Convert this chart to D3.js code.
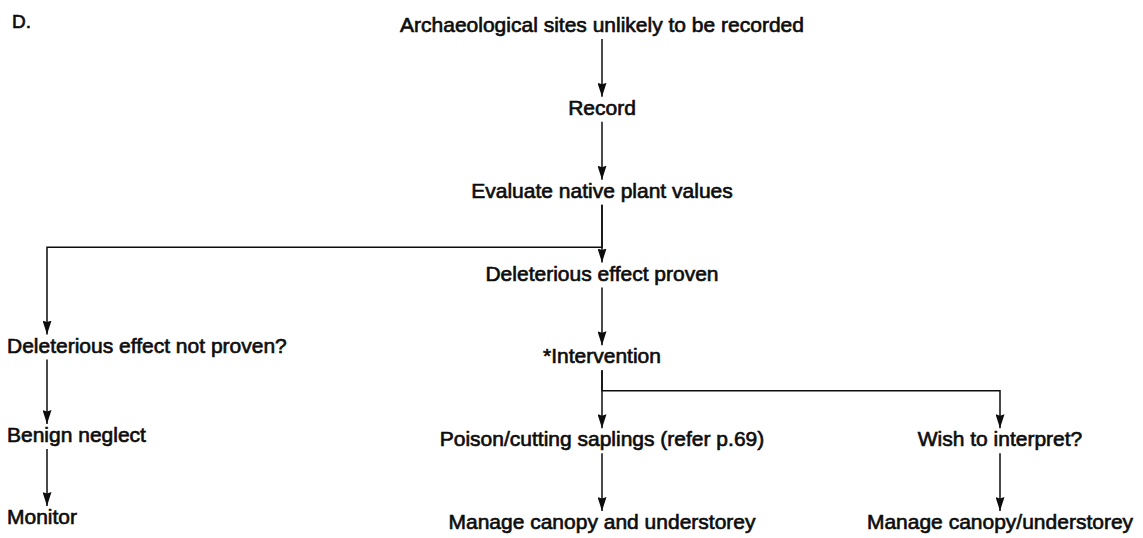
<!DOCTYPE html>
<html>
<head>
<meta charset="utf-8">
<script src="https://cdn.jsdelivr.net/npm/d3@7"></script>
<style>
  body { margin: 0; background: #fff; }
  svg text { font-family: "Liberation Sans", Arial, sans-serif; fill: #0d0d0d; stroke: #0d0d0d; stroke-width: 0.65px; }
</style>
</head>
<body>
<svg id="chart" width="1143" height="538"></svg>
<script>
// Flowchart content
var panel_label = "D.";

var node_labels = [
  "Archaeological sites unlikely to be recorded",
  "Record",
  "Evaluate native plant values",
  "Deleterious effect proven",
  "*Intervention",
  "Poison/cutting saplings (refer p.69)",
  "Manage canopy and understorey",
  "Deleterious effect not proven?",
  "Benign neglect",
  "Monitor",
  "Wish to interpret?",
  "Manage canopy/understorey"
];
// level of each node in the chart (left column sits a bit higher)
var node_rows = [0, 1, 2, 3, 4, 5, 6, 3.87, 4.95, 5.94, 5, 6];
var node_cols = ["mid", "mid", "mid", "mid", "mid", "mid", "mid", "left", "left", "left", "right", "right"];

// edges: source index, target index, level where an elbow turns (null = straight)
var edge_from = [0, 1, 2, 2, 3, 4, 4, 5, 7, 8, 10];
var edge_to   = [1, 2, 3, 7, 4, 5, 10, 6, 8, 9, 11];
var edge_bend = [null, null, null, 2.6, null, null, 4.33, null, null, null, null];

var svg = d3.select('#chart');

var y = d3.scaleLinear().domain([0, 6]).range([32, 529]);
var x = d3.scaleOrdinal().domain(["left", "mid", "right"]).range([47, 602, 1000]);

var fontSize = 21;

svg.append("text")
  .attr("x", 12).attr("y", 28)
  .style("font-size", "19px")
  .text(panel_label);

// arrow head
svg.append("defs").append("marker")
  .attr("id", "arrow")
  .attr("viewBox", "0 0 14 9")
  .attr("refX", 14).attr("refY", 4.5)
  .attr("markerWidth", 14).attr("markerHeight", 9)
  .attr("markerUnits", "userSpaceOnUse")
  .attr("orient", "auto")
  .append("path")
  .attr("d", "M0,0 L14,4.5 L0,9 L1.5,4.5 Z")
  .attr("fill", "#0d0d0d");

var edges = edge_from.map(function(s, i) {
  return {s: s, t: edge_to[i], bend: edge_bend[i]};
});

svg.append("g").selectAll("path")
  .data(edges)
  .enter().append("path")
  .attr("fill", "none")
  .attr("stroke", "#0d0d0d")
  .attr("stroke-width", 1.5)
  .attr("marker-end", "url(#arrow)")
  .attr("d", function(d) {
    var sx = x(node_cols[d.s]), tx = x(node_cols[d.t]);
    var sy = y(node_rows[d.s]) + 7;
    var ty = y(node_rows[d.t]) - 18;
    if (d.bend === null) {
      return "M" + tx + "," + sy + " L" + tx + "," + ty;
    }
    var by = y(d.bend);
    return "M" + sx + "," + sy + " L" + sx + "," + by + " L" + tx + "," + by + " L" + tx + "," + ty;
  });

svg.append("g").selectAll("text")
  .data(node_labels)
  .enter().append("text")
  .attr("x", function(d, i) { return node_cols[i] === "left" ? 7 : x(node_cols[i]); })
  .attr("y", function(d, i) { return y(node_rows[i]); })
  .attr("text-anchor", function(d, i) { return node_cols[i] === "left" ? "start" : "middle"; })
  .style("font-size", fontSize + "px")
  .text(function(d) { return d; });
</script>
</body>
</html>
